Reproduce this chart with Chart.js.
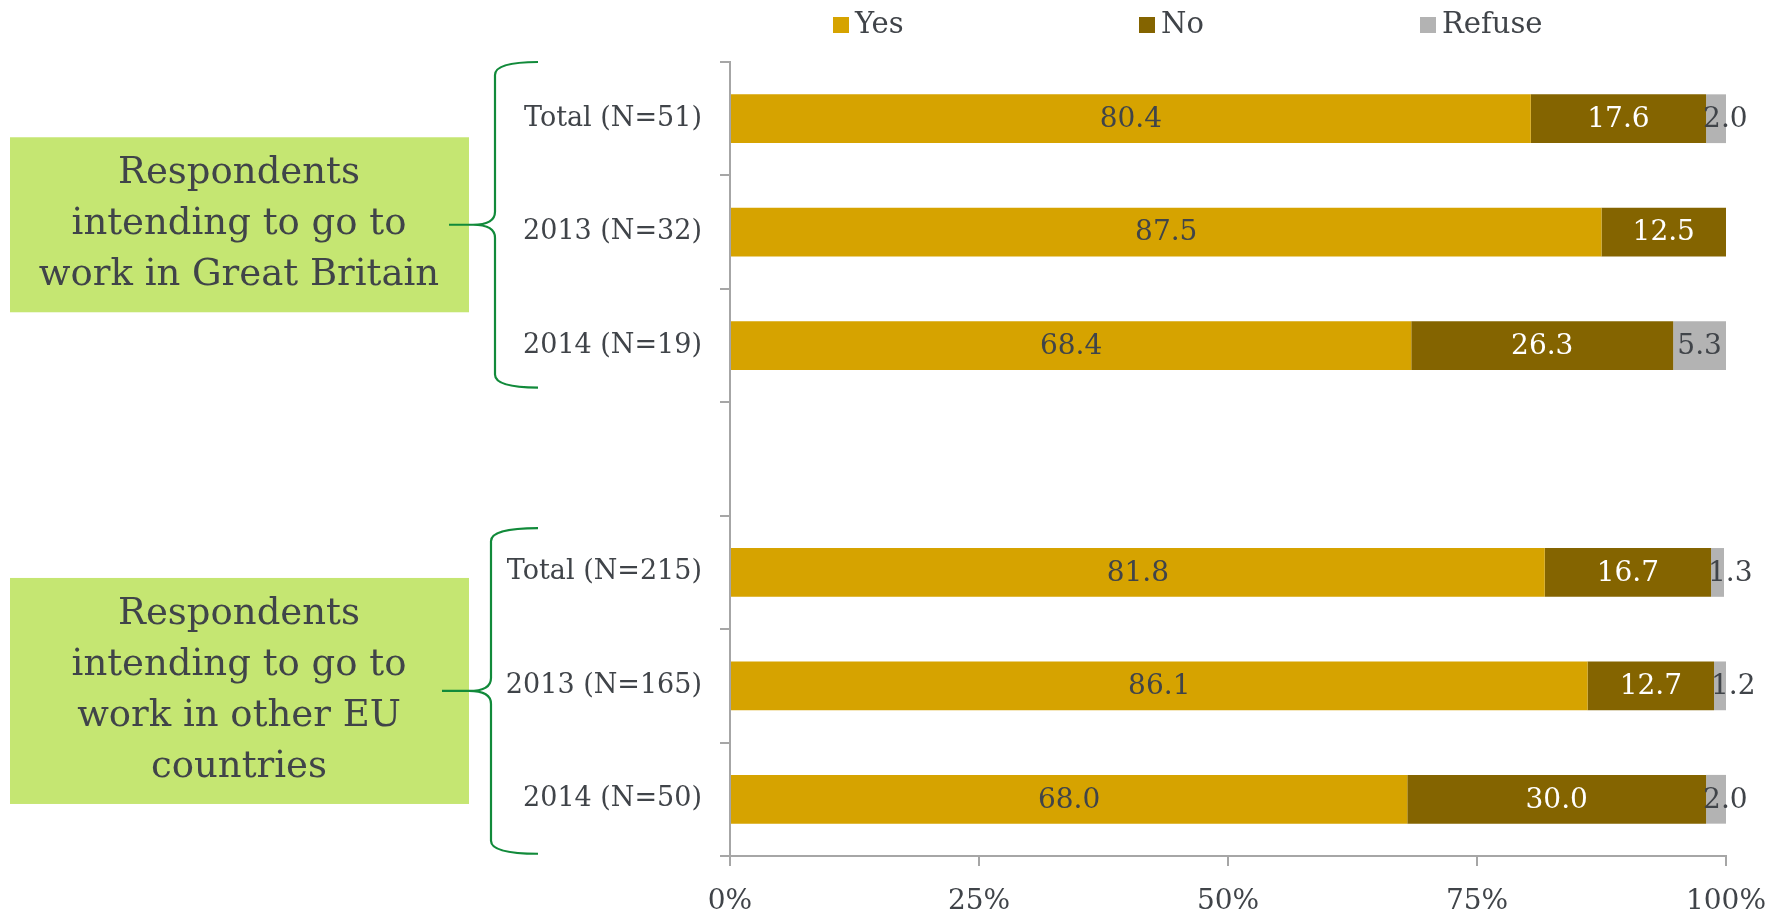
<!DOCTYPE html>
<html>
<head>
<meta charset="utf-8">
<script src="https://cdn.jsdelivr.net/npm/chart.js@4.4.1/dist/chart.umd.min.js"></script>
<style>
  html, body { margin: 0; padding: 0; background: #fff; }
  #wrap { width: 1769px; height: 910px; }
</style>
</head>
<body>
<div id="wrap"><canvas id="chart" width="1769" height="910"></canvas></div>
<script>
// data
const categories = ['Total (N=51)', '2013 (N=32)', '2014 (N=19)', '', 'Total (N=215)', '2013 (N=165)', '2014 (N=50)'];
const yesValues = [80.4, 87.5, 68.4, null, 81.8, 86.1, 68.0];
const noValues = [17.6, 12.5, 26.3, null, 16.7, 12.7, 30.0];
const refuseValues = [2.0, null, 5.3, null, 1.3, 1.2, 2.0];
const seriesNames = ['Yes', 'No', 'Refuse'];
const xTickStep = 25;

// side annotations: which rows each bracket covers, and its text
const groupRows = [[0, 2], [4, 6]];
const groupTitles = [
    ['Respondents', 'intending to go to', 'work in Great Britain'],
    ['Respondents', 'intending to go to', 'work in other EU', 'countries']
];

const FONT = "'DejaVu Serif', 'Liberation Serif', serif";
const TEXT = '#404449';
const GRAY = '#A6A6A6';

const valueLabels = {
    id: 'valueLabels',
    afterDatasetsDraw(chart) {
        const ctx = chart.ctx;
        ctx.save();
        ctx.font = '28px ' + FONT;
        ctx.textBaseline = 'middle';
        chart.data.datasets.forEach((ds, di) => {
            const meta = chart.getDatasetMeta(di);
            meta.data.forEach((bar, i) => {
                const v = ds.data[i];
                if (v == null) return;
                const txt = v.toFixed(1);
                const left = Math.min(bar.x, bar.base);
                const right = Math.max(bar.x, bar.base);
                const w = ctx.measureText(txt).width;
                ctx.fillStyle = ds.labelColor;
                if (w + 4 <= right - left) {
                    ctx.textAlign = 'center';
                    ctx.fillText(txt, (left + right) / 2, bar.y + 1);
                } else {
                    ctx.textAlign = 'left';
                    ctx.fillText(txt, left - 3, bar.y + 1);
                }
            });
        });
        ctx.restore();
    }
};

const topLegend = {
    id: 'topLegend',
    afterDraw(chart, args, opts) {
        const ctx = chart.ctx;
        ctx.save();
        ctx.font = '29px ' + FONT;
        ctx.textBaseline = 'middle';
        ctx.textAlign = 'left';
        chart.data.datasets.forEach((ds, i) => {
            const x = opts.xs[i];
            ctx.fillStyle = ds.backgroundColor;
            ctx.fillRect(x, opts.y - 8, 16, 16);
            ctx.fillStyle = TEXT;
            ctx.fillText(ds.label, x + 22, opts.y);
        });
        ctx.restore();
    }
};

function drawBrace(ctx, xEnd, xLine, xTip, yTop, yBot) {
    const yMid = (yTop + yBot) / 2;
    const r = 13;
    ctx.beginPath();
    ctx.moveTo(xEnd, yTop);
    ctx.quadraticCurveTo(xLine, yTop, xLine, yTop + r);
    ctx.lineTo(xLine, yMid - r);
    ctx.quadraticCurveTo(xLine, yMid, xLine - 22, yMid);
    ctx.lineTo(xTip, yMid);
    ctx.moveTo(xLine - 22, yMid);
    ctx.quadraticCurveTo(xLine, yMid, xLine, yMid + r);
    ctx.lineTo(xLine, yBot - r);
    ctx.quadraticCurveTo(xLine, yBot, xEnd, yBot);
    ctx.stroke();
}

const groupBoxes = {
    id: 'groupBoxes',
    afterDraw(chart) {
        const ctx = chart.ctx;
        const y = chart.scales.y;
        const step = y.getPixelForValue(1) - y.getPixelForValue(0);
        // bracket extents relative to row centres
        const spans = [
            [y.getPixelForValue(groupRows[0][0]) - 0.5 * step, y.getPixelForValue(groupRows[0][1]) + 0.37 * step],
            [y.getPixelForValue(groupRows[1][0]) - 0.39 * step, y.getPixelForValue(groupRows[1][1]) + 0.48 * step]
        ];
        const boxHeights = [175, 226];
        ctx.save();
        spans.forEach((s, gi) => {
            const mid = (s[0] + s[1]) / 2;
            const h = boxHeights[gi];
            ctx.fillStyle = '#C5E672';
            ctx.fillRect(10, mid - h / 2, 459, h);

            const lines = groupTitles[gi];
            ctx.font = '37px ' + FONT;
            ctx.fillStyle = TEXT;
            ctx.textAlign = 'center';
            ctx.textBaseline = 'middle';
            const lh = 51;
            lines.forEach((t, li) => {
                ctx.fillText(t, 239, mid + (li - (lines.length - 1) / 2) * lh);
            });

            ctx.strokeStyle = '#118A3A';
            ctx.lineWidth = 2.2;
            drawBrace(ctx, 538, gi === 0 ? 495 : 491, gi === 0 ? 449 : 442, s[0], s[1]);
        });
        ctx.restore();
    }
};

new Chart(document.getElementById('chart'), {
    type: 'bar',
    data: {
        labels: categories,
        datasets: [
            { label: seriesNames[0], data: yesValues, backgroundColor: '#D6A300', labelColor: TEXT },
            { label: seriesNames[1], data: noValues, backgroundColor: '#846400', labelColor: '#FFFFFF' },
            { label: seriesNames[2], data: refuseValues, backgroundColor: '#B3B3B3', labelColor: TEXT }
        ]
    },
    options: {
        indexAxis: 'y',
        responsive: false,
        animation: false,
        datasets: {
            bar: { categoryPercentage: 1, barPercentage: 0.43 }
        },
        layout: { padding: { left: 0, right: 43, top: 62, bottom: 0 } },
        plugins: {
            legend: { display: false },
            tooltip: { enabled: false },
            topLegend: { xs: [833, 1139, 1420], y: 25 }
        },
        scales: {
            x: {
                stacked: true,
                min: 0,
                max: 100,
                ticks: {
                    stepSize: xTickStep,
                    callback: v => v + '%',
                    font: { family: FONT, size: 28 },
                    color: TEXT,
                    padding: 19
                },
                grid: { drawOnChartArea: false, tickLength: 10, color: GRAY, lineWidth: 2 },
                border: { color: GRAY, width: 2 },
                afterFit(scale) {
                    scale.height = 54;
                    scale.paddingRight = 0;
                    scale.paddingLeft = 0;
                }
            },
            y: {
                stacked: true,
                ticks: { font: { family: FONT, size: 27 }, color: TEXT, padding: 18 },
                grid: { drawOnChartArea: false, offset: true, tickLength: 10, color: GRAY, lineWidth: 2 },
                border: { color: GRAY, width: 2 },
                afterFit(scale) { scale.width = 730; }
            }
        }
    },
    plugins: [valueLabels, topLegend, groupBoxes]
});
</script>
</body>
</html>
